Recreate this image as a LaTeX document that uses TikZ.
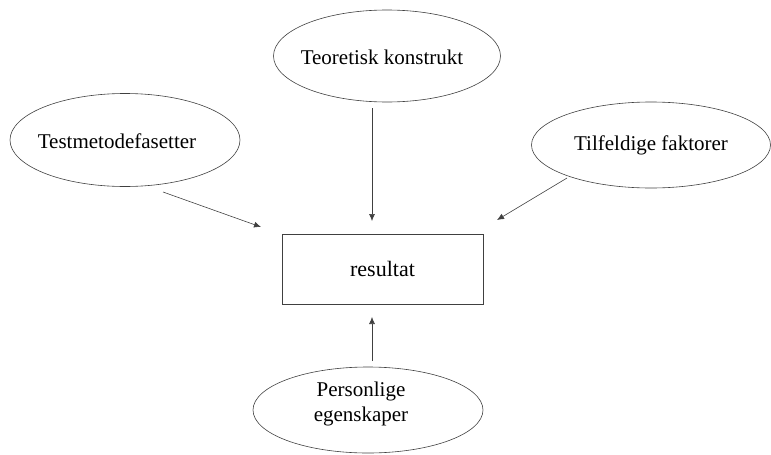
\documentclass[tikz,border=0pt]{standalone}
\usepackage{fontspec}
\setmainfont{Liberation Serif}
\usetikzlibrary{shapes.geometric,arrows.meta}
\begin{document}
\begin{tikzpicture}[x=1pt,y=-1pt,
  oval/.style={draw=black!75,line width=0.6pt,ellipse,inner sep=0pt,font=\fontsize{21}{25}\selectfont},
  rbox/.style={draw=black!75,line width=0.6pt,rectangle,inner sep=0pt,font=\fontsize{22}{25}\selectfont},
  conn/.style={draw=black!75,line width=0.6pt,-{Latex[length=7pt,width=6pt]}}]
\useasboundingbox (0,0) rectangle (771,455);
\node[oval,minimum width=230pt,minimum height=93pt] (tm) at (125,140) {};
\node[font=\fontsize{21}{25}\selectfont] (tmt) at (117,141) {Testmetodefasetter};
\node[oval,minimum width=227pt,minimum height=92pt] (tk) at (387,56) {};
\node[font=\fontsize{21}{25}\selectfont] (tkt) at (382,57) {Teoretisk konstrukt};
\node[oval,minimum width=239pt,minimum height=86pt] (tf) at (651,145) {Tilfeldige faktorer};
\node[rbox,minimum width=201pt,minimum height=70pt] (res) at (382.5,269) {resultat};
\node[oval,minimum width=230pt,minimum height=86pt,align=center] (pe) at (368,410) {};
\node[font=\fontsize{21}{25}\selectfont,align=center] (pet) at (361,404) {Personlige\\egenskaper};
\coordinate (tmA) at (163,192);
\coordinate (tmB) at (261,227);
\coordinate (tkA) at (372,108);
\coordinate (tkB) at (372,221);
\coordinate (tfA) at (567,178);
\coordinate (tfB) at (497,220);
\coordinate (peA) at (372,361);
\coordinate (peB) at (372,317);
\draw[conn] (tmA) -- (tmB);
\draw[conn] (tkA) -- (tkB);
\draw[conn] (tfA) -- (tfB);
\draw[conn] (peA) -- (peB);
\end{tikzpicture}
\end{document}
